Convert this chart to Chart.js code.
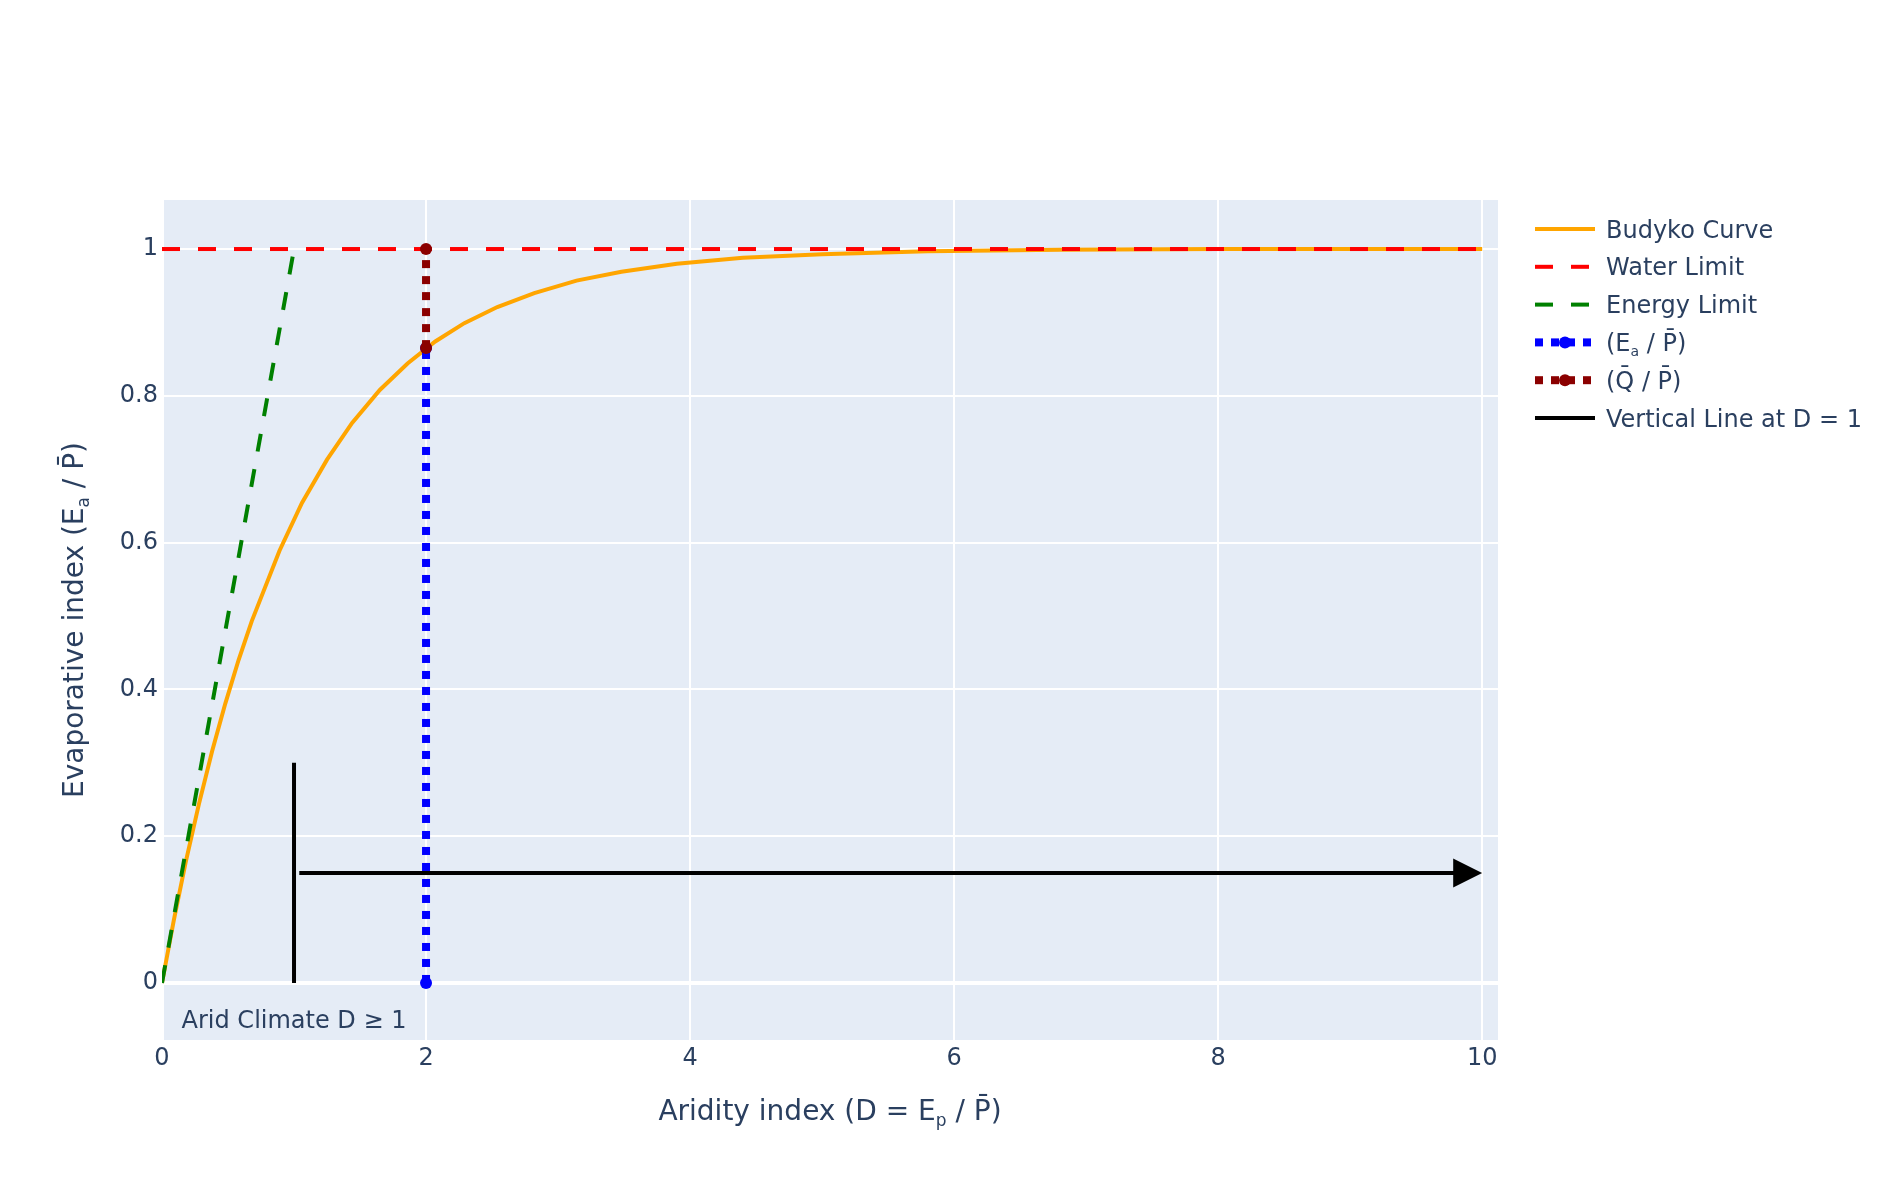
<!DOCTYPE html>
<html>
<head>
<meta charset="utf-8">
<title>Budyko Curve</title>
<script src="https://cdn.jsdelivr.net/npm/chart.js@4.4.1/dist/chart.umd.min.js"></script>
<style>
    html, body { margin: 0; padding: 0; background: #fff; }
    #budyko { display: block; }
</style>
</head>
<body>
<canvas id="budyko" width="1900" height="1200"></canvas>
<script>
// ---- data ----
const budykoX = [0, 0.09, 0.18, 0.28, 0.38, 0.48, 0.58, 0.68, 0.89, 1.06, 1.25, 1.44, 1.65, 1.86, 2.07,
                 2.29, 2.54, 2.82, 3.14, 3.48, 3.9, 4.4, 5.0, 5.8, 6.8, 8.0, 10.0];
const budykoY = [0, 0.086, 0.165, 0.244, 0.316, 0.381, 0.44, 0.493, 0.589, 0.654, 0.713, 0.763, 0.808, 0.844, 0.874,
                 0.899, 0.921, 0.94, 0.957, 0.969, 0.98, 0.988, 0.993, 0.997, 0.999, 1.0, 1.0];

const waterLimitX = [0, 10];
const waterLimitY = [1, 1];
const energyLimitX = [0, 1];
const energyLimitY = [0, 1];
const evapX = [2, 2];
const evapY = [0, 0.865];
const runoffX = [2, 2];
const runoffY = [0.865, 1];
const aridLineX = [1, 1];
const aridLineY = [0, 0.3];

const seriesNames = ['Budyko Curve', 'Water Limit', 'Energy Limit',
                     '(E<sub>a</sub> / P̄)', '(Q̄ / P̄)', 'Vertical Line at D = 1'];

const xTicks = [0, 2, 4, 6, 8, 10];
const yTicks = [0, 0.2, 0.4, 0.6, 0.8, 1];
const xRange = [0, 10.12];
const yRange = [-0.0777, 1.0668];

const arrowFrom = [1.04, 0.15];
const arrowTo = [10, 0.15];
const aridNoteText = 'Arid Climate D ≥ 1';
const aridNoteAt = [1, -0.05];

const xTitle = 'Aridity index (D = E<sub>p</sub> / P̄)';
const yTitle = 'Evaporative index (E<sub>a</sub> / P̄)';

// ---- look ----
const FONT = '"DejaVu Sans", Verdana, sans-serif';
const TEXT_COLOR = '#2a3f5f';
const PLOT_BG = '#E5ECF6';

const toPoints = (xs, ys) => xs.map((x, i) => ({ x: x, y: ys[i] }));

// "<sub>" 마크업 처리 (plotly 스타일 첨자)
function richParts(str) {
    return str.split(/(<sub>.*?<\/sub>)/).filter(s => s.length).map(s =>
        s.startsWith('<sub>') ? { t: s.slice(5, -6), sub: true } : { t: s, sub: false });
}

function drawRich(ctx, str, x, y, size, align) {
    const parts = richParts(str);
    const subSize = Math.round(size * 0.6);
    let total = 0;
    parts.forEach(p => {
        ctx.font = (p.sub ? subSize : size) + 'px ' + FONT;
        p.w = ctx.measureText(p.t).width;
        total += p.w;
    });
    let cx = align === 'center' ? x - total / 2 : x;
    ctx.textAlign = 'left';
    ctx.textBaseline = 'alphabetic';
    parts.forEach(p => {
        ctx.font = (p.sub ? subSize : size) + 'px ' + FONT;
        ctx.fillText(p.t, cx, p.sub ? y + size * 0.2 : y);
        cx += p.w;
    });
}

// plot area background
const plotBgPlugin = {
    id: 'plotBg',
    beforeDraw(chart) {
        const a = chart.chartArea;
        const ctx = chart.ctx;
        ctx.save();
        ctx.fillStyle = PLOT_BG;
        ctx.fillRect(a.left, a.top, a.right - a.left, a.bottom - a.top);
        ctx.restore();
    }
};

// arrow, note, axis titles and legend
const decorPlugin = {
    id: 'decor',
    afterDatasetsDraw(chart) {
        const ctx = chart.ctx;
        const xs = chart.scales.x, ys = chart.scales.y;

        // arrow annotation
        const x0 = xs.getPixelForValue(arrowFrom[0]);
        const x1 = xs.getPixelForValue(arrowTo[0]);
        const y0 = ys.getPixelForValue(arrowFrom[1]);
        ctx.save();
        ctx.strokeStyle = '#000';
        ctx.lineWidth = 4;
        ctx.beginPath();
        ctx.moveTo(x0, y0);
        ctx.lineTo(x1 - 20, y0);
        ctx.stroke();
        ctx.fillStyle = '#000';
        ctx.beginPath();
        ctx.moveTo(x1, y0);
        ctx.lineTo(x1 - 29, y0 - 14.5);
        ctx.lineTo(x1 - 29, y0 + 14.5);
        ctx.closePath();
        ctx.fill();

        // note text
        ctx.fillStyle = TEXT_COLOR;
        drawRich(ctx, aridNoteText, xs.getPixelForValue(aridNoteAt[0]), ys.getPixelForValue(aridNoteAt[1]) + 8, 24, 'center');

        // axis titles
        drawRich(ctx, xTitle, (chart.chartArea.left + chart.chartArea.right) / 2, 1120, 28, 'center');
        ctx.translate(83, (chart.chartArea.top + chart.chartArea.bottom) / 2);
        ctx.rotate(-Math.PI / 2);
        drawRich(ctx, yTitle, 0, 0, 28, 'center');
        ctx.restore();

        // legend
        chart.data.datasets.forEach((ds, i) => {
            const ly = 229 + i * 37.8;
            ctx.save();
            ctx.strokeStyle = ds.borderColor;
            ctx.lineWidth = ds.borderWidth;
            ctx.setLineDash(ds.borderDash || []);
            ctx.beginPath();
            ctx.moveTo(1535, ly);
            ctx.lineTo(1595, ly);
            ctx.stroke();
            if (ds.pointRadius) {
                ctx.fillStyle = ds.pointBackgroundColor;
                ctx.beginPath();
                ctx.arc(1565, ly, ds.pointRadius, 0, 2 * Math.PI);
                ctx.fill();
            }
            ctx.fillStyle = TEXT_COLOR;
            drawRich(ctx, ds.label, 1606, ly + 8.5, 24, 'left');
            ctx.restore();
        });
    }
};

function lineSet(i, xs, ys, color, width, dash, radius) {
    return {
        label: seriesNames[i],
        data: toPoints(xs, ys),
        showLine: true,
        borderColor: color,
        borderWidth: width,
        borderDash: dash,
        pointRadius: radius,
        pointBackgroundColor: color,
        pointBorderWidth: 0,
        order: 10 - i
    };
}

const gridWidth = c => (c.tick && c.tick.value === 0 ? 4 : 2);
const tickFont = { family: FONT, size: 24 };

new Chart(document.getElementById('budyko'), {
    type: 'scatter',
    data: {
        datasets: [
            lineSet(0, budykoX, budykoY, '#FFA500', 4, [], 0),
            lineSet(1, waterLimitX, waterLimitY, '#FF0000', 4, [18, 18], 0),
            lineSet(2, energyLimitX, energyLimitY, '#008000', 4, [18, 18], 0),
            lineSet(3, evapX, evapY, '#0000FF', 8, [8, 8], 6),
            lineSet(4, runoffX, runoffY, '#8B0000', 8, [8, 8], 6),
            lineSet(5, aridLineX, aridLineY, '#000000', 4, [], 0)
        ]
    },
    options: {
        responsive: false,
        animation: false,
        devicePixelRatio: 1,
        events: [],
        layout: { padding: { left: 0, top: 200, right: 402, bottom: 0 } },
        plugins: { legend: { display: false }, tooltip: { enabled: false } },
        scales: {
            x: {
                type: 'linear',
                min: xRange[0],
                max: xRange[1],
                afterBuildTicks: s => { s.ticks = xTicks.map(v => ({ value: v })); },
                afterFit: s => { s.height = 160; },
                grid: { color: '#ffffff', lineWidth: gridWidth, drawTicks: false },
                border: { display: false },
                ticks: { font: tickFont, color: TEXT_COLOR, padding: 4, maxRotation: 0,
                         callback: v => String(v) }
            },
            y: {
                type: 'linear',
                min: yRange[0],
                max: yRange[1],
                afterBuildTicks: s => { s.ticks = yTicks.map(v => ({ value: v })); },
                afterFit: s => { s.width = 162; },
                grid: { color: '#ffffff', lineWidth: gridWidth, drawTicks: false },
                border: { display: false },
                ticks: { font: tickFont, color: TEXT_COLOR, padding: 4,
                         callback: v => String(+v.toFixed(1)) }
            }
        }
    },
    plugins: [plotBgPlugin, decorPlugin]
});
</script>
</body>
</html>
